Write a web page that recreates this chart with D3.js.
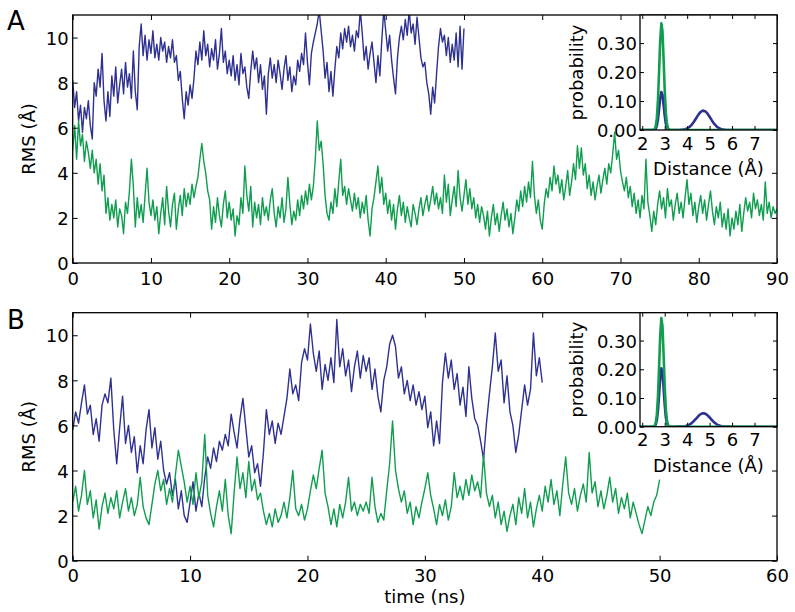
<!DOCTYPE html>
<html><head><meta charset="utf-8">
<script src="https://cdn.jsdelivr.net/npm/d3@7"></script>
<style>
body{margin:0;background:#fff}
svg{display:block}
text{font-family:"DejaVu Sans",sans-serif;fill:#000}
</style>
</head><body>
<svg id="chart" width="795" height="612"></svg>
<script>
// ---------------- data ----------------
const timeStep = 0.25; // ns between samples
const rmsTicks = [0, 2, 4, 6, 8, 10];
const timeTicksA = [0, 10, 20, 30, 40, 50, 60, 70, 80, 90];
const timeTicksB = [0, 10, 20, 30, 40, 50, 60];
const distTicks = [2, 3, 4, 5, 6, 7];
const probTicks = [0, 0.1, 0.2, 0.3];

const rmsA_blue = [
8.1,6.9,7.6,6.3,7.0,5.8,6.9,6.4,7.2,6.1,5.5,8.0,7.4,8.6,7.8,9.3,7.2,6.3,7.6,6.5,
8.3,7.4,8.7,7.1,7.9,8.6,7.5,8.9,7.8,8.4,7.3,9.4,7.6,6.8,9.6,10.6,9.2,10.1,9.0,9.9,
9.3,10.3,9.1,9.7,9.0,10.0,9.4,9.8,8.9,9.6,9.1,9.9,8.9,9.2,8.1,8.5,7.3,6.4,7.6,7.0,
7.9,7.3,8.2,9.4,8.8,9.8,9.0,10.3,9.2,9.7,8.7,9.5,9.0,9.9,8.6,9.3,10.4,8.9,9.4,8.4,
9.0,8.3,9.2,8.1,8.8,7.9,9.3,8.4,8.7,7.8,7.3,8.5,9.4,8.6,9.1,8.0,8.8,7.7,8.3,6.6,
8.4,9.1,8.2,8.8,8.0,9.0,8.4,7.7,8.6,9.2,8.1,8.7,7.6,8.3,7.9,9.0,8.5,9.3,8.8,10.2,
8.9,7.9,9.3,9.8,10.2,10.6,11.2,10.3,9.4,8.2,8.9,7.6,8.5,7.4,8.6,9.6,9.1,10.2,9.5,10.4,
9.8,10.5,9.6,10.1,9.4,10.3,10.0,11.2,10.2,9.0,9.6,8.6,9.3,9.8,8.9,8.0,9.2,8.3,9.9,11.2,
10.3,9.4,10.1,9.0,8.2,7.5,9.1,10.0,10.5,9.9,10.8,10.1,11.2,10.2,10.6,9.7,10.9,10.0,9.1,8.7,
8.9,8.0,7.5,6.6,7.8,7.1,8.4,9.6,10.4,9.8,10.1,9.2,10.0,8.9,9.7,9.0,10.2,8.7,10.5,8.6,
10.4];

const rmsA_green = [
5.0,6.1,4.6,6.3,5.2,5.7,4.5,5.4,4.9,4.2,5.0,4.0,4.6,3.5,4.4,3.2,3.9,2.2,2.9,1.9,
2.6,2.0,2.8,1.6,2.4,2.1,1.3,2.7,2.2,3.2,4.6,3.4,1.6,2.9,2.0,2.6,1.8,3.0,4.2,2.7,
2.1,2.8,1.9,2.5,1.3,2.2,2.9,1.7,3.4,2.3,1.6,2.6,3.1,1.5,2.4,3.0,2.1,3.3,2.5,3.1,
2.6,3.5,2.9,3.4,3.8,4.6,5.3,4.5,4.0,3.2,2.8,1.5,2.5,1.8,2.9,2.1,1.6,2.6,3.2,2.0,
2.7,1.9,2.4,1.2,2.1,1.7,2.9,2.2,4.3,3.0,2.3,3.4,1.6,2.7,2.0,2.6,1.7,2.9,2.1,2.5,
1.9,2.8,3.3,2.2,1.6,2.5,2.0,2.9,1.8,2.4,3.8,2.6,1.7,2.3,1.9,2.8,2.1,3.0,2.4,3.2,
2.6,3.5,2.8,3.4,4.6,6.3,5.0,5.4,4.4,3.0,2.2,1.9,2.7,2.2,3.3,2.5,3.6,4.6,3.0,3.4,
2.6,3.3,2.8,2.3,3.1,2.4,2.9,2.0,2.7,2.2,3.0,1.9,1.2,2.4,2.9,3.6,4.3,3.1,3.8,2.6,
3.1,2.2,2.8,1.9,2.6,1.5,2.4,3.0,2.1,2.7,1.8,2.5,2.0,1.6,2.6,2.2,1.7,2.4,2.9,2.1,
2.6,3.0,2.3,2.8,3.4,2.6,3.1,2.4,2.9,2.2,3.9,2.7,3.5,2.1,2.8,3.4,2.5,4.1,2.9,2.3,
3.0,3.7,2.6,3.3,2.4,2.9,2.0,2.6,1.8,2.5,2.1,1.5,2.3,1.2,2.0,2.6,1.7,2.2,1.4,2.1,
2.7,1.9,2.4,1.6,2.2,1.3,2.0,2.8,2.3,3.2,2.5,3.4,2.7,3.6,2.9,4.5,3.0,2.2,2.8,1.9,
1.5,2.6,3.3,2.9,3.8,3.2,4.3,3.5,3.9,3.1,3.7,2.8,3.4,4.1,3.0,3.6,4.4,3.7,5.2,4.2,
5.1,3.9,4.4,3.3,3.9,3.0,3.6,2.8,3.4,3.9,3.1,3.7,4.2,3.5,4.4,4.0,4.8,5.8,4.6,5.0,
4.1,3.6,3.2,3.8,2.9,3.4,2.5,3.1,2.2,2.8,2.0,3.0,2.4,4.6,2.7,2.1,1.4,2.3,1.7,2.6,
3.2,2.4,2.9,2.0,3.3,2.5,2.8,1.9,2.6,3.1,2.2,2.7,2.0,2.9,3.7,2.6,3.1,2.1,2.7,1.8,
2.5,3.0,2.2,2.8,1.9,2.6,3.2,2.3,1.7,2.5,2.0,2.7,1.6,2.2,1.5,2.4,1.2,2.0,1.5,2.3,
1.7,2.6,1.4,2.2,2.9,2.3,2.7,2.0,3.1,2.4,2.8,2.1,2.6,1.9,3.6,2.2,2.7,2.0,2.5,2.2,
2.4];

const rmsB_blue = [
5.8,6.6,6.1,7.0,7.8,6.5,6.9,5.6,6.3,5.3,6.9,7.4,7.0,8.1,5.8,4.3,5.9,7.3,5.2,6.0,
4.8,5.5,3.9,5.1,4.3,5.8,6.7,5.0,5.9,4.5,5.3,4.0,3.4,3.9,2.9,3.6,2.3,3.1,2.0,1.7,
2.6,3.5,2.2,3.0,2.4,3.7,4.6,4.1,5.0,4.4,5.3,4.9,5.6,5.1,6.5,5.7,5.0,6.3,7.2,5.9,
4.6,5.1,3.9,4.3,3.3,4.8,6.7,5.6,6.2,5.2,6.1,5.6,6.4,7.2,8.5,7.4,7.8,7.1,8.8,9.4,
8.9,10.5,9.2,8.4,9.3,7.6,8.7,8.0,9.0,7.9,10.7,8.6,9.4,8.2,8.9,7.5,8.6,9.3,8.1,9.1,
8.4,9.0,7.6,8.5,7.3,6.6,8.0,8.6,9.6,10.0,9.5,8.1,8.6,7.4,8.0,7.1,7.8,6.9,7.5,6.7,
7.3,5.9,6.6,5.1,6.2,5.2,7.9,9.2,8.1,8.9,7.6,8.3,6.9,7.7,6.4,8.6,7.2,6.3,6.0,5.3,
4.5,6.1,7.4,8.6,10.1,8.4,8.9,7.0,8.2,6.6,6.0,4.8,5.6,6.7,7.8,6.9,7.6,10.1,8.2,9.0,
7.9];

const rmsB_green = [
2.6,3.3,2.2,2.9,4.0,2.5,3.1,1.9,2.7,1.4,2.4,3.0,2.1,2.8,2.3,3.1,1.9,2.6,3.2,2.2,
2.8,2.0,2.5,3.7,2.4,1.9,1.6,2.5,3.4,4.0,3.1,3.6,2.5,3.2,2.6,3.8,4.9,4.2,3.5,2.6,
3.3,2.5,3.9,2.8,3.5,5.6,2.9,2.1,1.5,2.4,3.1,2.2,3.6,2.0,1.2,3.0,4.6,3.2,3.9,2.8,
4.4,3.1,3.6,2.7,3.0,2.2,1.6,2.1,1.5,2.3,1.7,2.0,2.6,1.9,2.8,4.0,2.3,2.0,2.5,1.8,
2.3,3.1,3.8,3.2,4.1,4.9,3.0,2.4,1.6,2.3,1.5,2.5,1.9,2.6,3.7,2.2,2.6,2.0,2.5,2.2,
2.6,2.1,3.7,2.4,1.7,2.1,1.8,3.1,4.3,6.2,4.0,3.2,2.6,3.1,2.1,2.6,1.6,2.4,1.9,2.6,
3.2,3.9,2.9,2.3,1.6,2.5,2.0,2.7,1.8,2.4,3.9,2.8,3.3,2.7,3.6,2.9,3.8,3.1,3.5,2.8,
4.7,3.0,2.4,2.9,1.9,2.6,1.6,2.2,1.3,2.0,2.5,1.6,2.8,2.1,3.2,1.9,2.6,1.5,2.3,2.9,
2.2,3.3,2.6,3.6,2.5,3.1,2.0,3.4,4.6,3.0,2.5,3.2,2.2,2.9,3.4,2.6,4.8,3.0,3.5,2.4,
3.1,2.3,2.9,3.7,2.6,3.2,2.1,2.8,2.3,3.0,1.9,2.6,2.1,1.6,1.2,1.8,2.4,2.0,2.6,2.9,
3.6];

// inset: probability vs distance (Å)
const distance = [
1.9,2.0,2.1,2.2,2.3,2.4,
2.5,2.55,2.6,2.65,2.7,2.75,2.8,2.85,2.9,2.95,3.0,3.05,3.1,3.15,3.2,3.25,3.3,
3.4,3.5,3.6,3.7,3.8,3.9,4.0,4.1,4.2,4.3,4.4,4.5,4.6,4.7,4.8,4.9,5.0,5.1,5.2,5.3,5.4,5.5,5.6,5.7,5.8,5.9,
6.0,6.1,6.2,6.3,6.4,6.5,6.6,6.7,6.8,6.9,7.0,7.1,7.2,7.3,7.4,7.5,7.6,7.7,7.8,7.9,8.0];

const probA_green = [
0,0,0,0,0,0,
0.0006,0.003,0.0126,0.041,0.103,0.202,0.309,0.368,0.342,0.247,0.139,0.061,0.021,0.0055,0.0011,0.0002,0,
0,0,0,0,0,0,0,0,0,0,0,0,0,0,0,0,0,0,0,0,0,0,0,0,0,0,
0,0,0,0,0,0,0,0,0,0,0,0,0,0,0,0,0,0,0,0,0];

const probA_blue = [
0,0,0,0,0,0,
0.0002,0.0011,0.0045,0.0145,0.0367,0.0721,0.110,0.131,0.122,0.088,0.0495,0.0216,0.0074,0.002,0.0004,0.0001,0,
0,0,0.0001,0.0004,0.0011,0.0025,0.0053,0.0103,0.0179,0.0283,0.0407,0.0529,0.0624,0.0669,0.0649,0.0572,0.0457,0.0331,0.0218,0.013,0.007,0.0034,0.0015,0.0006,0.0002,0.0001,
0,0,0,0,0,0,0,0,0,0,0,0,0,0,0,0,0,0,0,0,0];

const probB_green = [
0,0,0,0,0,0,
0.0006,0.0031,0.0129,0.0418,0.1056,0.2075,0.317,0.378,0.351,0.253,0.1425,0.0623,0.0213,0.0057,0.0012,0.0002,0,
0,0,0,0,0,0,0,0,0,0,0,0,0,0,0,0,0,0,0,0,0,0,0,0,0,0,
0,0,0,0,0,0,0,0,0,0,0,0,0,0,0,0,0,0,0,0,0];

const probB_blue = [
0,0,0,0,0,0,
0.0003,0.0017,0.0069,0.0224,0.0567,0.1114,0.170,0.203,0.188,0.136,0.0765,0.0335,0.0114,0.003,0.0006,0.0001,0,
0,0,0.0001,0.0003,0.0008,0.0018,0.0037,0.0072,0.0125,0.0199,0.0285,0.0371,0.0438,0.0469,0.0455,0.0401,0.0321,0.0232,0.0153,0.0091,0.0049,0.0024,0.0011,0.0004,0.0002,0.0001,
0,0,0,0,0,0,0,0,0,0,0,0,0,0,0,0,0,0,0,0,0];

// ---------------- drawing ----------------
const BLUE = "#2e3192", GREEN = "#0f9d4f";
const svg = d3.select("#chart");
const FONT = 18;

function frameAndTicks(g, x, y, xTicks, yTicks, fmtX, fmtY, tickLen, padX, padY) {
  const top = y.range()[1], bottom = y.range()[0], left = x.range()[0], right = x.range()[1];
  const ax = (sel) => { sel.select(".domain").remove(); sel.selectAll(".tick line").attr("stroke", "#000").attr("stroke-width", 1); };
  g.append("g").attr("transform", `translate(0,${bottom})`)
    .call(d3.axisBottom(x).tickValues(xTicks).tickSize(-tickLen).tickPadding(padX).tickFormat(fmtX))
    .call(ax).selectAll("text").attr("font-size", FONT).attr("font-family", "DejaVu Sans").attr("fill", "#000");
  g.append("g").attr("transform", `translate(0,${top})`)
    .call(d3.axisTop(x).tickValues(xTicks).tickSize(-tickLen).tickFormat(""))
    .call(ax);
  g.append("g").attr("transform", `translate(${left},0)`)
    .call(d3.axisLeft(y).tickValues(yTicks).tickSize(-tickLen).tickPadding(padY).tickFormat(fmtY))
    .call(ax).selectAll("text").attr("font-size", FONT).attr("font-family", "DejaVu Sans").attr("fill", "#000").attr("dy", "0.37em");
  g.append("g").attr("transform", `translate(${right},0)`)
    .call(d3.axisRight(y).tickValues(yTicks).tickSize(-tickLen).tickFormat(""))
    .call(ax);
  g.append("rect").attr("x", left).attr("y", top).attr("width", right - left).attr("height", bottom - top)
    .attr("fill", "none").attr("stroke", "#000").attr("stroke-width", 1.3);
}

function drawPanel(o) {
  const x = d3.scaleLinear().domain(o.xDomain).range([72.7, 777]);
  const y = d3.scaleLinear().domain([0, 11]).range([o.bottom, o.top]);
  const g = svg.append("g");
  const clipId = "clip" + o.label;
  g.append("clipPath").attr("id", clipId).append("rect")
    .attr("x", 72.7).attr("y", o.top).attr("width", 777 - 72.7).attr("height", o.bottom - o.top);
  const line = d3.line().x((d, i) => x(i * timeStep)).y(d => y(d));
  const series = g.append("g").attr("clip-path", `url(#${clipId})`);
  series.append("path").datum(o.blue).attr("d", line).attr("fill", "none").attr("stroke", BLUE).attr("stroke-width", 1.4).attr("stroke-linejoin", "round");
  series.append("path").datum(o.green).attr("d", line).attr("fill", "none").attr("stroke", GREEN).attr("stroke-width", 1.4).attr("stroke-linejoin", "round");
  frameAndTicks(g, x, y, o.xTicks, rmsTicks, d3.format("d"), d3.format("d"), 5, 9, 4);

  g.append("text").attr("transform", `translate(35,${(o.top + o.bottom) / 2}) rotate(-90)`)
    .attr("text-anchor", "middle").attr("font-size", FONT).text("RMS (Å)");
  g.append("text").attr("x", 7).attr("y", o.labelY).attr("font-size", 26).text(o.label);

  // inset
  const ix = d3.scaleLinear().domain([1.9, 8.0]).range([640, 777]);
  const iy = d3.scaleLinear().domain([0, 0.397]).range([o.top + o.insetH, o.top]);
  const ig = svg.append("g");
  ig.append("rect").attr("x", 640).attr("y", o.top).attr("width", 137).attr("height", o.insetH).attr("fill", "#fff");
  const iclip = "iclip" + o.label;
  ig.append("clipPath").attr("id", iclip).append("rect")
    .attr("x", 640).attr("y", o.top).attr("width", 137).attr("height", o.insetH);
  const pline = d3.line().x((d, i) => ix(distance[i])).y(d => iy(d));
  const curves = ig.append("g").attr("clip-path", `url(#${iclip})`);
  curves.append("path").datum(o.probBlue).attr("d", pline).attr("fill", "none").attr("stroke", BLUE).attr("stroke-width", 2.6).attr("stroke-linejoin", "round");
  curves.append("path").datum(o.probGreen).attr("d", pline).attr("fill", "none").attr("stroke", GREEN).attr("stroke-width", 2.6).attr("stroke-linejoin", "round");
  frameAndTicks(ig, ix, iy, distTicks, probTicks, d3.format("d"), d3.format(".2f"), 4, 7, 3);
  ig.append("text").attr("x", (640 + 777) / 2).attr("y", o.top + o.insetH + 45)
    .attr("text-anchor", "middle").attr("font-size", FONT).text("Distance (Å)");
  ig.append("text").attr("transform", `translate(583,${o.top + o.insetH / 2}) rotate(-90)`)
    .attr("text-anchor", "middle").attr("font-size", FONT).text("probability");
}

drawPanel({label: "A", labelY: 30, top: 15, bottom: 263, xDomain: [0, 90], xTicks: timeTicksA,
  blue: rmsA_blue, green: rmsA_green, probBlue: probA_blue, probGreen: probA_green, insetH: 115});
drawPanel({label: "B", labelY: 329, top: 312.7, bottom: 560.7, xDomain: [0, 60], xTicks: timeTicksB,
  blue: rmsB_blue, green: rmsB_green, probBlue: probB_blue, probGreen: probB_green, insetH: 114});

svg.append("text").attr("x", (72.7 + 777) / 2).attr("y", 603).attr("text-anchor", "middle")
  .attr("font-size", FONT).text("time (ns)");
</script>
</body></html>
